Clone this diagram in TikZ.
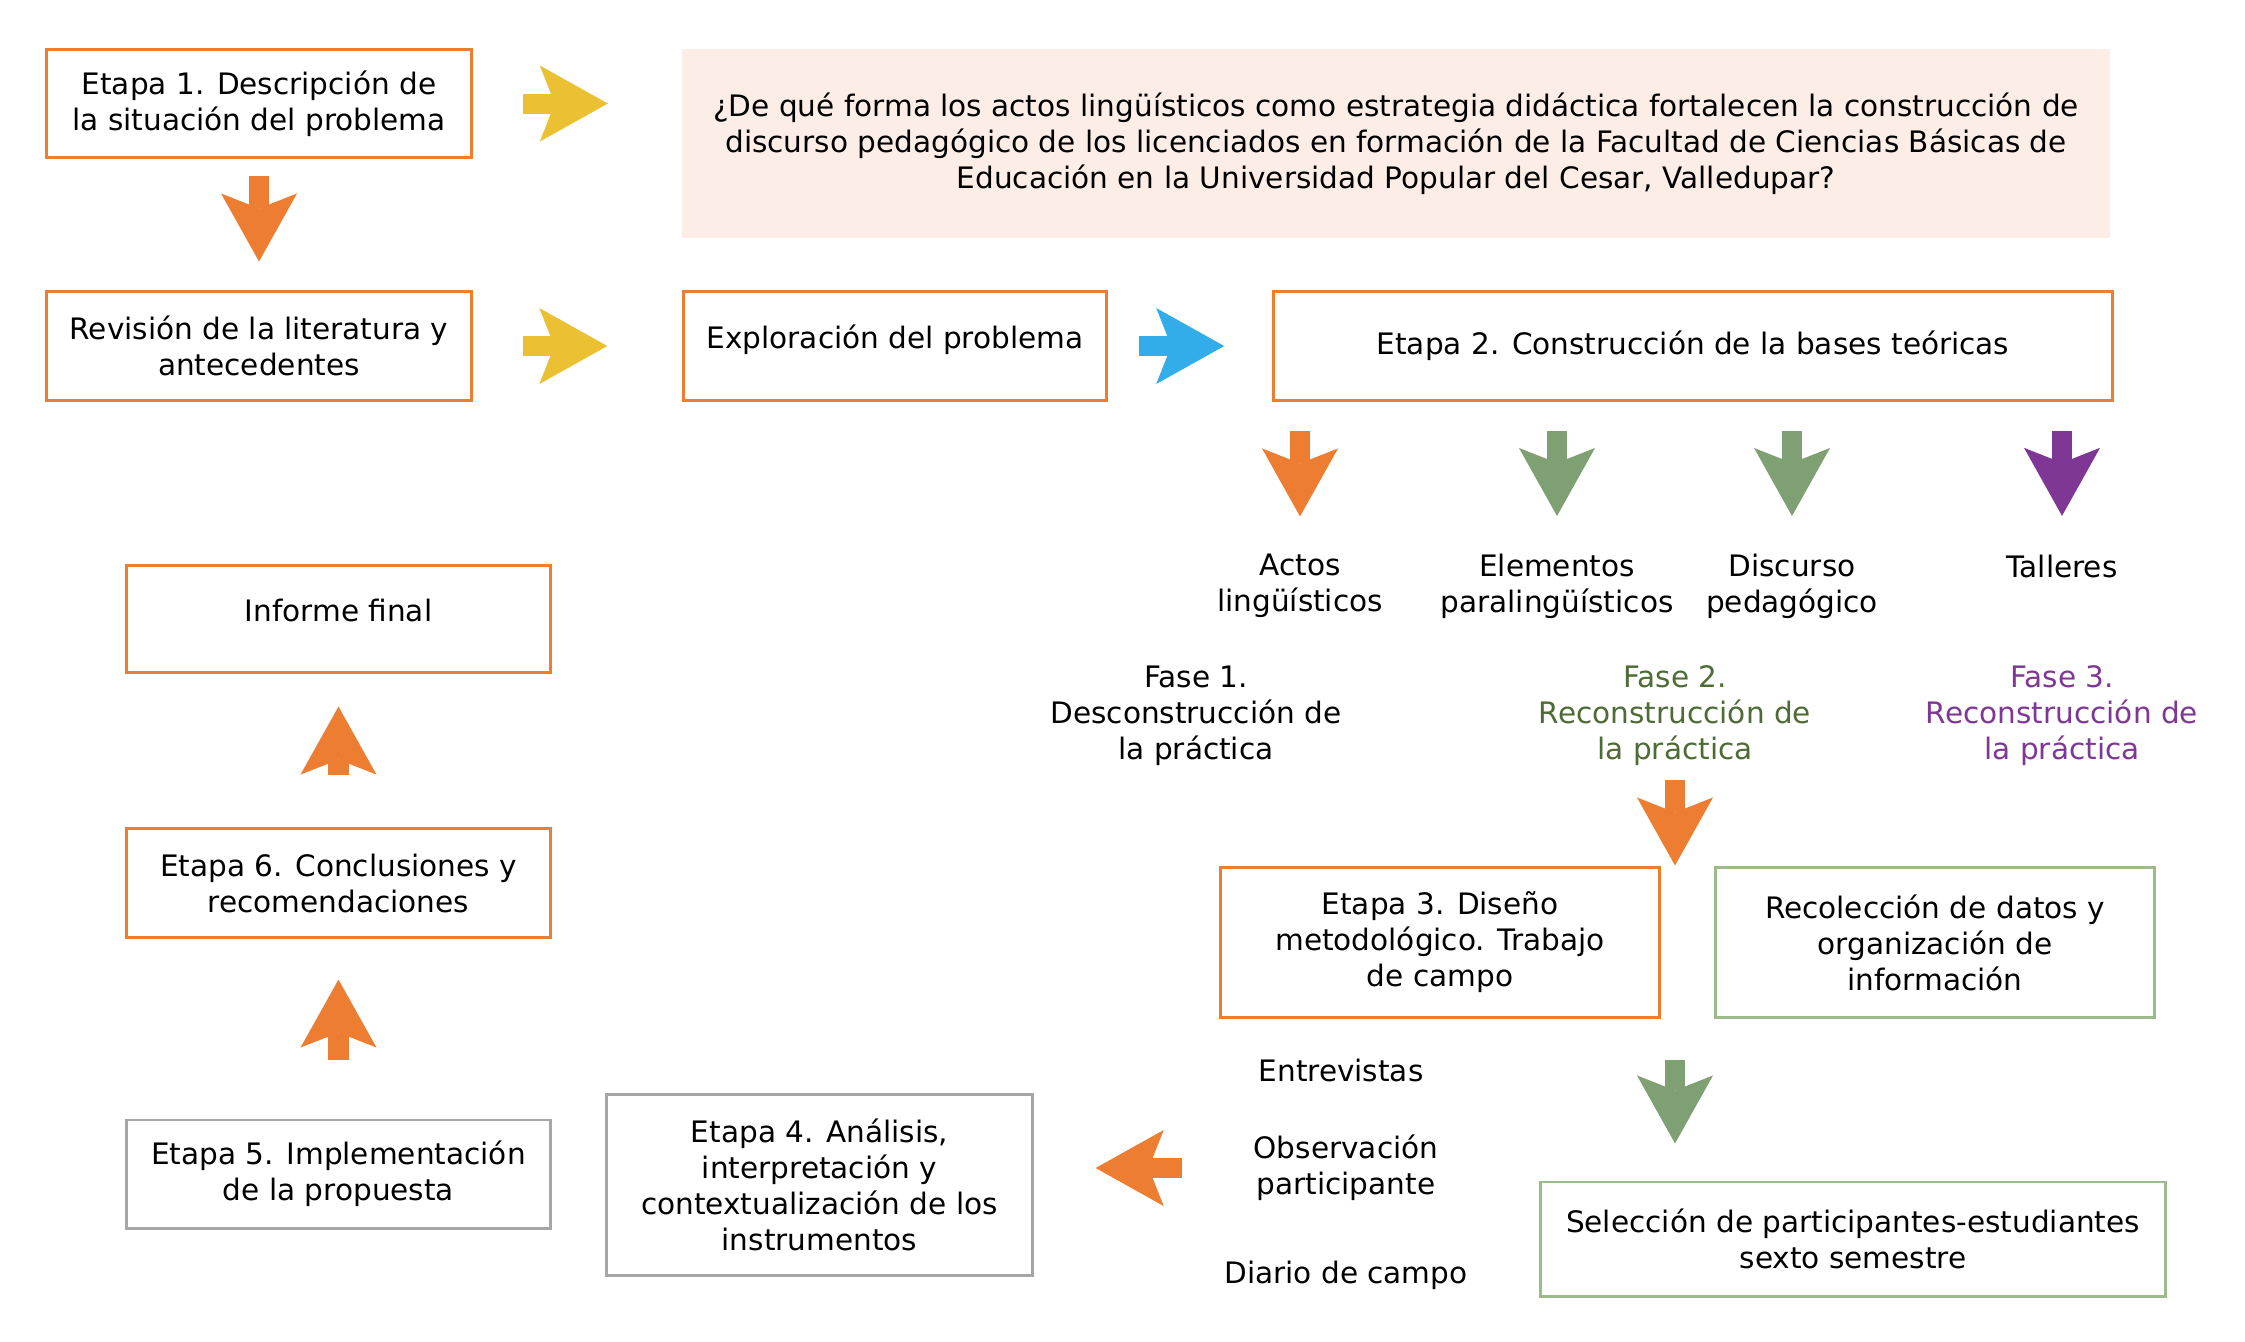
\documentclass[tikz,border=0pt]{standalone}
\usepackage{fontspec}
\setmainfont{DejaVu Sans}
\usetikzlibrary{arrows.meta}
\definecolor{corange}{HTML}{ED7D31}
\definecolor{cyellow}{HTML}{EBC033}
\definecolor{cblue}{HTML}{33ADEA}
\definecolor{cgreenA}{HTML}{7FA072}
\definecolor{cgreenB}{HTML}{9DBB8A}
\definecolor{cgreenT}{HTML}{4E6B35}
\definecolor{cpurple}{HTML}{7E3794}
\definecolor{cgray}{HTML}{A6A6A6}
\definecolor{cpeach}{HTML}{FCEEE6}
\begin{document}
\begin{tikzpicture}[x=0.01cm, y=-0.01cm,
  font=\fontsize{8.4pt}{10.24pt}\selectfont,
  stagebox/.style={draw=#1, line width=0.85pt, inner sep=0pt, align=center, text=black},
  hightext/.style={text height=0.22cm, text depth=0.18cm},
  lbl/.style={inner sep=0pt, align=center, text=black},
  barrow/.style={draw=#1, line width=0.2cm,
    -{Stealth[length=0.68cm, width=0.76cm, inset=0.15cm, line width=0pt]}}]
\useasboundingbox (0,0) rectangle (2245,1341);

% boxes
\node[stagebox=corange, minimum width=4.24cm, minimum height=1.07cm] (e1) at (259,103.5)
  {Etapa 1. Descripción de\\la situación del problema};
\node[fill=cpeach, inner sep=0pt, align=center, minimum width=14.28cm, minimum height=1.89cm] (q) at (1396,143.5)
  {¿De qué forma los actos lingüísticos como estrategia didáctica fortalecen la construcción de\\discurso pedagógico de los licenciados en formación de la Facultad de Ciencias Básicas de\\Educación en la Universidad Popular del Cesar, Valledupar?};
\node[stagebox=corange, minimum width=4.24cm, minimum height=1.08cm] (rev) at (259,346)
  {Revisión de la literatura y\\antecedentes};
\node[stagebox=corange, hightext, minimum width=4.22cm, minimum height=1.08cm] (expl) at (895,346)
  {Exploración del problema};
\node[stagebox=corange, minimum width=8.38cm, minimum height=1.08cm] (e2) at (1693,346)
  {Etapa 2. Construcción de la bases teóricas};

\node[stagebox=corange, hightext, minimum width=4.23cm, minimum height=1.06cm] (inf) at (338.5,619)
  {Informe final};
\node[stagebox=corange, minimum width=4.23cm, minimum height=1.08cm] (e6) at (338.5,883)
  {Etapa 6. Conclusiones y\\recomendaciones};
\node[stagebox=cgray, minimum width=4.23cm, minimum height=1.08cm] (e5) at (338.5,1174)
  {Etapa 5. Implementación\\de la propuesta};
\node[stagebox=cgray, minimum width=4.25cm, minimum height=1.80cm] (e4) at (819.5,1185)
  {Etapa 4. Análisis,\\interpretación y\\contextualización de los\\instrumentos};

\node[stagebox=corange, minimum width=4.38cm, minimum height=1.49cm] (e3) at (1440,942.5)
  {Etapa 3. Diseño\\metodológico. Trabajo\\de campo};
\node[stagebox=cgreenB, minimum width=4.38cm, minimum height=1.49cm] (rec) at (1935,942.5)
  {Recolección de datos y\\organización de\\información};
\node[stagebox=cgreenB, minimum width=6.25cm, minimum height=1.14cm] (sel) at (1853,1239)
  {Selección de participantes-estudiantes\\sexto semestre};

% labels
\node[lbl] (act) at (1300,586) {Actos\\lingüísticos};
\node[lbl] (ele) at (1557,586) {Elementos\\paralingüísticos};
\node[lbl] (dis) at (1792,586) {Discurso\\pedagógico};
\node[lbl] (tal) at (2062,566) {Talleres};

\node[lbl] (f1) at (1196,716) {Fase 1.\\Desconstrucción de\\la práctica};
\node[lbl, text=cgreenT] (f2) at (1675,716) {Fase 2.\\Reconstrucción de\\la práctica};
\node[lbl, text=cpurple] (f3) at (2062,716) {Fase 3.\\Reconstrucción de\\la práctica};

\node[lbl] (ent) at (1341,1070) {Entrevistas};
\node[lbl] (obs) at (1346,1168) {Observación\\participante};
\node[lbl] (dia) at (1346,1275) {Diario de campo};

% block arrows
\draw[barrow=cyellow, shorten <=0.5cm, shorten >=0.73cm] (e1.east) -- (e1.east -| q.west);
\draw[barrow=corange, shorten <=0.17cm, shorten >=0.29cm] (e1.south) -- (rev.north);
\draw[barrow=cyellow, shorten <=0.5cm, shorten >=0.75cm] (rev.east) -- (expl.west);
\draw[barrow=cblue, shorten <=0.31cm, shorten >=0.48cm] (expl.east) -- (e2.west);

\draw[barrow=corange, shorten <=0.29cm, shorten >=0.37cm] (e2.south -| act) -- (act);
\draw[barrow=cgreenA, shorten <=0.29cm, shorten >=0.37cm] (e2.south -| ele) -- (ele);
\draw[barrow=cgreenA, shorten <=0.29cm, shorten >=0.37cm] (e2.south -| dis) -- (dis);
\draw[barrow=cpurple, shorten <=0.29cm, shorten >=0.38cm] (e2.south -| tal) -- (tal);

\draw[barrow=corange, shorten <=0.135cm, shorten >=0.01cm] (f2.south) -- (f2.south |- e3.north);
\draw[barrow=cgreenA, shorten <=0.41cm, shorten >=0.37cm] (e3.south -| f2.south) -- (sel.north -| f2.south);
\draw[barrow=corange, shorten <=0.715cm, shorten >=0.62cm] (obs.west) -- (obs.west -| e4.east);

\draw[barrow=corange, shorten <=0.52cm, shorten >=0.33cm] (e6.north) -- (inf.south);
\draw[barrow=corange, shorten <=0.58cm, shorten >=0.41cm] (e5.north) -- (e6.south);
\end{tikzpicture}
\end{document}
